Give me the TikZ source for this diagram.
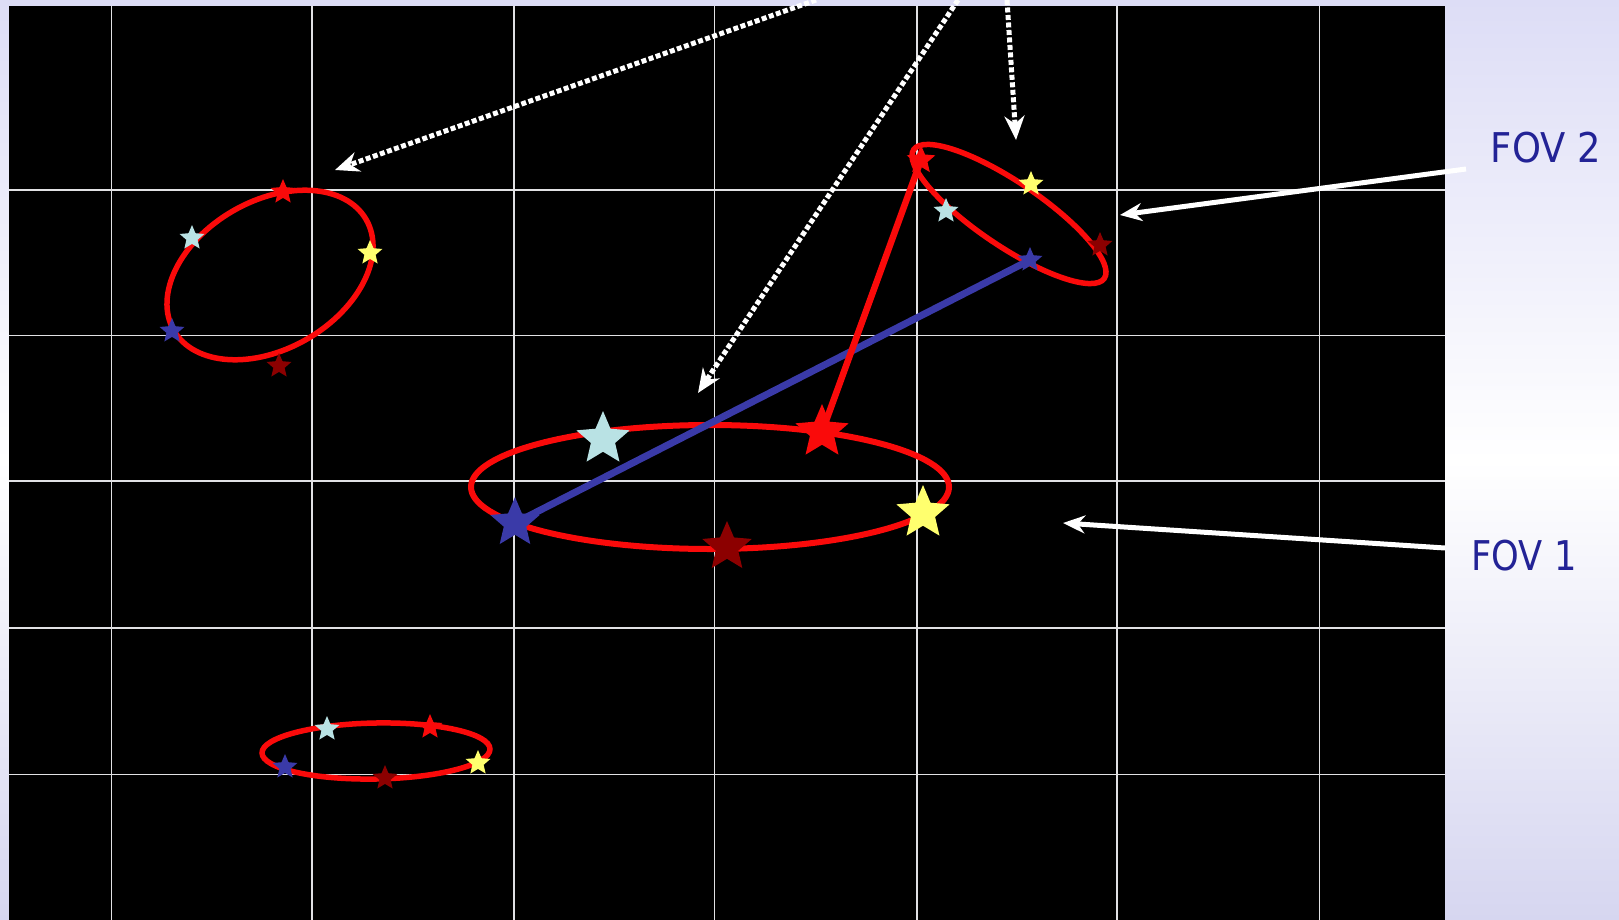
\documentclass[tikz,border=0pt]{standalone}
\usepackage{fontspec}
\setsansfont{DejaVu Sans}
\usetikzlibrary{shapes.geometric,arrows.meta}
\definecolor{lavtop}{RGB}{221,221,246}
\definecolor{lavbot}{RGB}{214,214,240}
\definecolor{gridc}{RGB}{225,225,228}
\definecolor{redc}{RGB}{250,10,10}
\definecolor{bluec}{RGB}{58,58,168}
\definecolor{cyanc}{RGB}{185,226,228}
\definecolor{yellowc}{RGB}{255,255,110}
\definecolor{darkredc}{RGB}{140,0,0}
\definecolor{textc}{RGB}{35,35,150}
\pgfdeclarelayer{back}
\pgfdeclarelayer{mid}
\pgfsetlayers{back,mid,main}
\begin{document}
\begin{tikzpicture}[x=1pt,y=-1pt,
  starbase/.style={star, star points=5, star point ratio=2.2, inner sep=0pt, draw=none},
  bigstar/.style={starbase, minimum size=56pt},
  smallstar/.style={starbase, minimum size=26pt},
  orbit/.style={draw=redc, line width=5.5pt},
  gridline/.style={draw=gridc, line width=1.6pt},
  redlink/.style={draw=redc, line width=6.5pt},
  bluelink/.style={draw=bluec, line width=7pt},
  dotarrow/.style={draw=white, line width=5pt, dash pattern=on 5pt off 2.5pt, -{Stealth[length=24pt,width=20pt]}},
  solidarrow/.style={draw=white, line width=5pt, -{Stealth[length=22pt,width=18pt]}},
  fovlabel/.style={text=textc, font=\fontsize{41}{49}\selectfont\sffamily, inner sep=0pt}
]
\useasboundingbox (0,0) rectangle (1619,920);
\begin{pgfonlayer}{back}
  \shade[top color=lavtop, bottom color=lavbot, middle color=white] (0,0) rectangle (1619,920);
  \fill[black] (9,6) rectangle (1445,920);
  \foreach \x in {111.5,311.8,514.2,714.5,916.9,1117.2,1319.6}
    \draw[gridline] (\x,6) -- (\x,920);
  \foreach \y in {190,335.6,481.1,627.8,774.4}
    \draw[gridline] (9,\y) -- (1445,\y);
\end{pgfonlayer}

% ellipses
\begin{pgfonlayer}{mid}
  \draw[orbit, shift={(270,275)}, rotate=30] (0,0) ellipse [x radius=111, y radius=74];
  \draw[orbit, line width=6pt] (710,487) ellipse [x radius=239, y radius=62];
  \draw[orbit, shift={(1009,214)}, rotate=-34] (0,0) ellipse [x radius=115, y radius=32];
  \draw[orbit, shift={(376,751)}, rotate=1] (0,0) ellipse [x radius=114, y radius=28];
\end{pgfonlayer}

% stars: upper-left ellipse
\node[smallstar, fill=redc] (ar) at (283,192) {};
\node[smallstar, fill=cyanc] (ac) at (192,238) {};
\node[smallstar, fill=yellowc] (ay) at (370,253) {};
\node[smallstar, fill=bluec] (ab) at (172,331) {};
\node[smallstar, fill=darkredc] (ad) at (279,366) {};
% stars: central ellipse (FOV 1)
\node[bigstar, fill=cyanc] (bc) at (603,439) {};
\node[bigstar, fill=redc] (br) at (822,432) {};
\node[bigstar, fill=yellowc] (by) at (923,513) {};
\node[bigstar, fill=bluec, minimum size=52pt] (bb) at (515,523) {};
\node[bigstar, fill=darkredc, minimum size=52pt] (bd) at (727,547) {};
% stars: upper-right ellipse (FOV 2)
\node[smallstar, fill=redc, minimum size=30pt] (cr) at (921,160) {};
\node[smallstar, fill=yellowc] (cy) at (1031,184) {};
\node[smallstar, fill=cyanc] (cc) at (946,211) {};
\node[smallstar, fill=darkredc] (cd) at (1100,245) {};
\node[smallstar, fill=bluec] (cb) at (1030,260) {};
% stars: bottom ellipse
\node[smallstar, fill=cyanc] (dc) at (327,729) {};
\node[smallstar, fill=redc] (dr) at (430,727) {};
\node[smallstar, fill=bluec] (db) at (285,767) {};
\node[smallstar, fill=darkredc] (dd) at (385,778) {};
\node[smallstar, fill=yellowc] (dy) at (478,763) {};

% links
\begin{pgfonlayer}{mid}
  \draw[bluelink] (bb.center) -- (cb.center);
  \draw[redlink] (br.center) -- (cr.center);
\end{pgfonlayer}

% arrows
\coordinate (a1s) at (816,0);   \coordinate (a1e) at (335,170);
\coordinate (a2s) at (958,0);   \coordinate (a2e) at (698,393);
\coordinate (a3s) at (1007,0);  \coordinate (a3e) at (1016,140);
\coordinate (f2s) at (1466,169); \coordinate (f2e) at (1120,215);
\coordinate (f1s) at (1445,548); \coordinate (f1e) at (1063,523);
\draw[dotarrow] (a1s) -- (a1e);
\draw[dotarrow] (a2s) -- (a2e);
\draw[dotarrow] (a3s) -- (a3e);
\draw[solidarrow] (f2s) -- (f2e);
\draw[solidarrow] (f1s) -- (f1e);

% labels
\node[fovlabel] (fov2) at (1546,148) {\scalebox{0.9}[1]{FOV 2}};
\node[fovlabel] (fov1) at (1524,556) {\scalebox{0.86}[1]{FOV 1}};
\end{tikzpicture}
\end{document}
